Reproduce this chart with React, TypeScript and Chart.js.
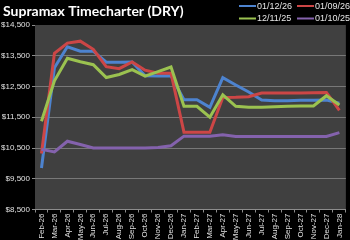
import React, { useEffect, useRef } from "react";
import { Chart, registerables } from "chart.js";

Chart.register(...registerables);

const months = [
  "Feb-26", "Mar-26", "Apr-26", "May-26", "Jun-26", "Jul-26", "Aug-26", "Sep-26",
  "Oct-26", "Nov-26", "Dec-26", "Jan-27", "Feb-27", "Mar-27", "Apr-27", "May-27",
  "Jun-27", "Jul-27", "Aug-27", "Sep-27", "Oct-27", "Nov-27", "Dec-27", "Jan-28",
];

const curve_01_12_26 = [
  9850, 13110, 13790, 13650, 13650, 13290, 13290, 13300, 12850, 12840, 12850, 12070,
  12070, 11820, 12790, 12550, 12320, 12060, 12040, 12040, 12050, 12050, 12060, 11960,
];
const curve_01_09_26 = [
  10320, 13580, 13910, 13975, 13710, 13145, 13080, 13300, 13030, 12930, 12930, 11015,
  11015, 11015, 12145, 12150, 12165, 12290, 12290, 12290, 12290, 12300, 12305, 11720,
];
const curve_12_11_25 = [
  11370, 12685, 13415, 13305, 13210, 12790, 12890, 13050, 12835, 12985, 13135, 11855,
  11855, 11500, 12230, 11855, 11825, 11825, 11845, 11855, 11865, 11865, 12200, 11900,
];
const curve_01_10_25 = [
  10455, 10370, 10720, 10615, 10500, 10500, 10500, 10500, 10500, 10515, 10575, 10885,
  10885, 10885, 10930, 10875, 10875, 10875, 10875, 10875, 10875, 10875, 10875, 11000,
];

const seriesLabels = ["01/12/26", "01/09/26", "12/11/25", "01/10/25"];
const seriesColors = ["#4d83cf", "#cc4646", "#9bc250", "#8462ad"];
const titleText = "Supramax Timecharter (DRY)";

const yMin = 8500;
const yMax = 14500;
const yStep = 1000;

const labelFont = "'Liberation Sans', Arial, sans-serif";

const decorPlugin = {
  id: "decor",
  beforeDraw(chart: any) {
    const { ctx, chartArea } = chart;
    ctx.save();
    ctx.fillStyle = "#000000";
    ctx.fillRect(0, 0, chart.width, chart.height);
    ctx.fillStyle = "#404040";
    ctx.fillRect(chartArea.left, chartArea.top, chartArea.right - chartArea.left, chartArea.bottom - chartArea.top);
    ctx.restore();
  },
  afterDraw(chart: any) {
    const { ctx } = chart;
    ctx.save();
    // title
    ctx.fillStyle = "#ffffff";
    ctx.font = "bold 14px Lato";
    ctx.textBaseline = "alphabetic";
    ctx.textAlign = "left";
    ctx.fillText(titleText, 3, 16);
    // legend
    ctx.font = "9px " + labelFont;
    ctx.textBaseline = "middle";
    const cols = [239, 297];
    const rows = [6, 18.5];
    chart.data.datasets.forEach((ds: any, i: number) => {
      const x = cols[i % 2];
      const y = rows[Math.floor(i / 2)];
      ctx.strokeStyle = ds.borderColor;
      ctx.lineWidth = 2;
      ctx.beginPath();
      ctx.moveTo(x, y);
      ctx.lineTo(x + 17, y);
      ctx.stroke();
      ctx.fillStyle = "#e6e6e6";
      ctx.fillText(ds.label, x + 18, y + 0.5);
    });
    ctx.restore();
  },
};

export default function App() {
  const ref = useRef<HTMLCanvasElement | null>(null);
  useEffect(() => {
    document.body.style.margin = "0";
    document.body.style.background = "#000";
    const series = [curve_01_12_26, curve_01_09_26, curve_12_11_25, curve_01_10_25];
    const chart = new Chart(ref.current!, {
      type: "line",
      data: {
        labels: months,
        datasets: series.map((d, i) => ({
          label: seriesLabels[i],
          data: d,
          borderColor: seriesColors[i],
          backgroundColor: seriesColors[i],
          borderWidth: 3,
          pointRadius: 0,
          tension: 0,
          order: 3 - i,
        })),
      },
      options: {
        responsive: false,
        animation: false,
        events: [],
        layout: { padding: { top: 25, right: 1, left: 0, bottom: 0 } },
        plugins: { legend: { display: false }, title: { display: false }, tooltip: { enabled: false } },
        scales: {
          x: {
            type: "category",
            offset: true,
            afterFit: (s: any) => { s.height = 30.5; },
            grid: { offset: true, drawOnChartArea: false, drawTicks: true, tickLength: 3, color: "#8c8c8c" },
            border: { display: true, color: "#8c8c8c", width: 1 },
            ticks: {
              autoSkip: false, maxRotation: 90, minRotation: 90, padding: 1,
              color: "#e0e0e0", font: { size: 8, family: labelFont },
            },
          },
          y: {
            min: yMin,
            max: yMax,
            afterFit: (s: any) => { s.width = 35; },
            grid: {
              color: (c: any) => (c.tick && c.tick.value === yMax ? "rgba(0,0,0,0)" : "#787878"),
              tickColor: "#8c8c8c",
              tickLength: 3,
              drawTicks: true,
            },
            border: { display: false },
            ticks: {
              stepSize: yStep,
              padding: 2,
              color: "#e0e0e0",
              font: { size: 8, family: labelFont },
              callback: (v: any) => "$" + Number(v).toLocaleString("en-US"),
            },
          },
        },
      },
      plugins: [decorPlugin],
    });
    return () => chart.destroy();
  }, []);
  return (
    <div style={{ width: 350, height: 240, background: "#000" }}>
      <canvas ref={ref} width={350} height={240} style={{ display: "block" }} />
    </div>
  );
}
